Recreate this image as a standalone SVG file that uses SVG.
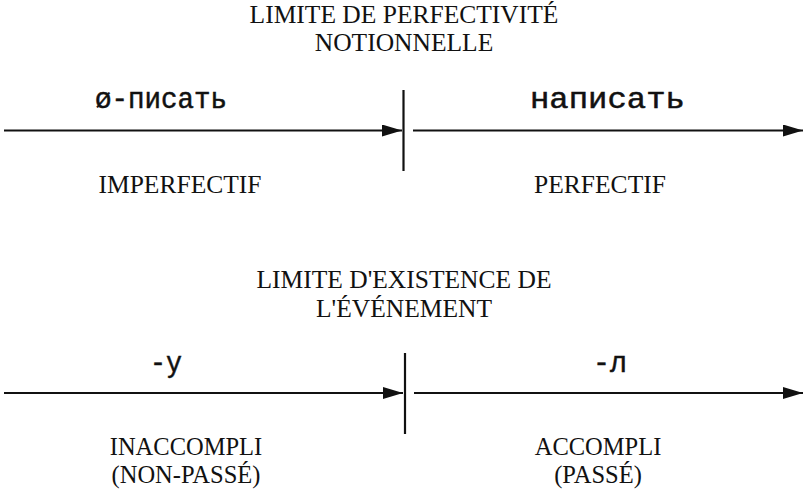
<svg xmlns="http://www.w3.org/2000/svg" width="804" height="495" viewBox="0 0 804 495">
<defs>
<style>
.t{font-family:"Liberation Serif","Times New Roman",serif;font-size:25.5px;fill:#111;text-anchor:middle}
.l{font-size:24.5px}
.c{font-family:"Liberation Mono","Courier New",monospace;font-size:29px;fill:#111;stroke:#111;stroke-width:0.5}
.ln{stroke:#111;stroke-width:2.2;fill:none}
</style>
<marker id="ah" viewBox="0 0 20 12" refX="20" refY="6" markerWidth="20" markerHeight="12" markerUnits="userSpaceOnUse" orient="auto">
<path d="M0,0 L20,6 L0,12 z" fill="#111"/>
</marker>
</defs>
<rect width="804" height="495" fill="#fff"/>
<g id="limite1">
<text class="t" x="404" y="23">LIMITE DE PERFECTIVITÉ</text>
<text class="t" x="404" y="51">NOTIONNELLE</text>
</g>
<g id="limite2">
<text class="t" x="404" y="288">LIMITE D'EXISTENCE DE</text>
<text class="t" x="404" y="317">L'ÉVÉNEMENT</text>
</g>
<g id="connectors">
<line class="ln" x1="4" y1="130.5" x2="402" y2="130.5" marker-end="url(#ah)"/>
<line class="ln" x1="413" y1="130.5" x2="803" y2="130.5" marker-end="url(#ah)"/>
<line class="ln" x1="403.5" y1="90" x2="403.5" y2="171"/>
<line class="ln" x1="4" y1="393" x2="403" y2="393" marker-end="url(#ah)"/>
<line class="ln" x1="414" y1="393" x2="803" y2="393" marker-end="url(#ah)"/>
<line class="ln" x1="405" y1="353" x2="405" y2="434"/>
</g>
<g id="imperfectif">
<text class="c" x="95" y="108" textLength="132" lengthAdjust="spacingAndGlyphs">ø-писать</text>
<text class="t" x="180" y="193">IMPERFECTIF</text>
</g>
<g id="perfectif">
<text class="c" x="530" y="108" textLength="155" lengthAdjust="spacingAndGlyphs">написать</text>
<text class="t" x="600" y="193">PERFECTIF</text>
</g>
<g id="inaccompli">
<text class="c" x="150" y="372" textLength="32" lengthAdjust="spacingAndGlyphs">-у</text>
<text class="t l" x="186" y="455">INACCOMPLI</text>
<text class="t l" x="186" y="483">(NON-PASSÉ)</text>
</g>
<g id="accompli">
<text class="c" x="593" y="372" textLength="34" lengthAdjust="spacingAndGlyphs">-л</text>
<text class="t l" x="598" y="455">ACCOMPLI</text>
<text class="t l" x="598" y="483">(PASSÉ)</text>
</g>
</svg>
